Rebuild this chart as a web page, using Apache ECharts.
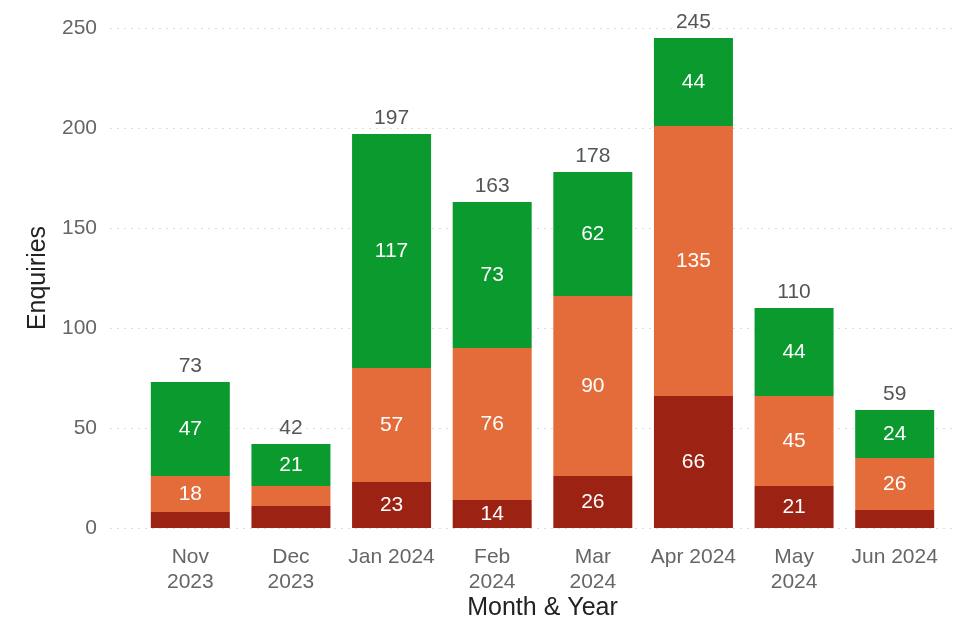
<!DOCTYPE html>
<html>
<head>
<meta charset="utf-8">
<script src="https://cdn.jsdelivr.net/npm/echarts@6/dist/echarts.min.js"></script>
<style>
  html, body { margin: 0; padding: 0; background: #fff; }
  #main { width: 964px; height: 617px; }
</style>
</head>
<body>
<div id="main"></div>
<script>
// data
var months = ['Nov\n2023', 'Dec\n2023', 'Jan 2024', 'Feb\n2024', 'Mar\n2024', 'Apr 2024', 'May\n2024', 'Jun 2024'];
var lowVals = [8, 11, 23, 14, 26, 66, 21, 9];
var midVals = [18, 10, 57, 76, 90, 135, 45, 26];
var highVals = [47, 21, 117, 73, 62, 44, 44, 24];
var totals = [73, 42, 197, 163, 178, 245, 110, 59];
var yTicks = [0, 50, 100, 150, 200, 250];

var myChart = echarts.init(document.getElementById('main'));

var font = 'Liberation Sans, Arial, sans-serif';

// hide labels on thin segments
function segLabel(p) {
  return p.value >= 12 ? p.value : '';
}

var segStyle = {
  show: true,
  position: 'inside',
  color: '#fff',
  fontSize: 21,
  fontFamily: font,
  formatter: segLabel
};

var option = {
  backgroundColor: '#fff',
  animation: false,
  grid: [
    { left: 110, right: 8, top: 28, bottom: 89, outerBoundsMode: 'none' },
    { left: 140, right: 19, top: 28, bottom: 89, outerBoundsMode: 'none' }
  ],
  xAxis: [
    { gridIndex: 0, type: 'category', data: months, show: false },
    {
      gridIndex: 1,
      type: 'category',
      data: months,
      axisLine: { show: false },
      axisTick: { show: false },
      axisLabel: { interval: 0, color: '#666', fontSize: 21, fontFamily: font, lineHeight: 25, margin: 17 },
      name: 'Month & Year',
      nameLocation: 'middle',
      nameGap: 68,
      nameMoveOverlap: false,
      nameTextStyle: { color: '#222', fontSize: 25, fontFamily: font }
    }
  ],
  yAxis: [
    {
      gridIndex: 0,
      type: 'value',
      min: yTicks[0],
      max: yTicks[yTicks.length - 1],
      interval: 50,
      axisLine: { show: false },
      axisTick: { show: false },
      axisLabel: { color: '#666', fontSize: 21, fontFamily: font, margin: 13 },
      splitLine: { lineStyle: { color: '#ddd', type: [2, 5], width: 1 } },
      name: 'Enquiries',
      nameLocation: 'middle',
      nameGap: 59,
      nameMoveOverlap: false,
      nameTextStyle: { color: '#222', fontSize: 25, fontFamily: font }
    },
    {
      gridIndex: 1,
      type: 'value',
      min: yTicks[0],
      max: yTicks[yTicks.length - 1],
      interval: 50,
      show: false
    }
  ],
  series: [
    {
      name: 'Low', type: 'bar', stack: 'total', xAxisIndex: 1, yAxisIndex: 1,
      barWidth: 79, data: lowVals,
      itemStyle: { color: '#9c2314' }, label: segStyle
    },
    {
      name: 'Mid', type: 'bar', stack: 'total', xAxisIndex: 1, yAxisIndex: 1,
      barWidth: 79, data: midVals,
      itemStyle: { color: '#e46c3a' }, label: segStyle
    },
    {
      name: 'High', type: 'bar', stack: 'total', xAxisIndex: 1, yAxisIndex: 1,
      barWidth: 79, data: highVals,
      itemStyle: { color: '#0a9a2e' }, label: segStyle
    },
    {
      name: 'Total', type: 'bar', xAxisIndex: 1, yAxisIndex: 1,
      barWidth: 79, barGap: '-100%', data: totals,
      itemStyle: { color: 'rgba(0,0,0,0)' },
      label: { show: true, position: 'top', distance: 5, color: '#555', fontSize: 21, fontFamily: font },
      z: 1
    }
  ]
};

myChart.setOption(option);
</script>
</body>
</html>
